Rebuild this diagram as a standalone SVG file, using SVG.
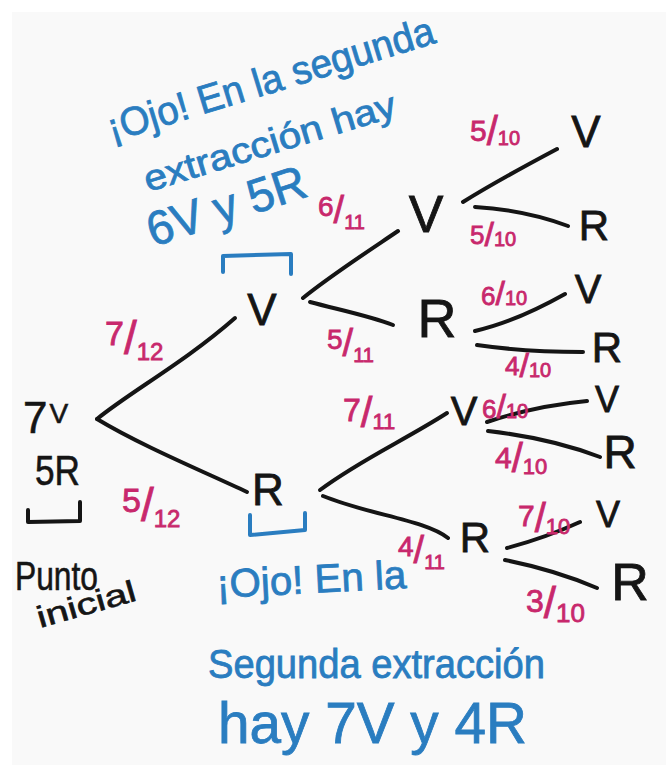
<svg xmlns="http://www.w3.org/2000/svg" width="666" height="765" viewBox="0 0 666 765">
<style>
.n{font-family:"Liberation Sans",Arial,sans-serif;fill:#151515;stroke:#151515;stroke-width:0.8;text-anchor:middle}
.b{font-family:"Liberation Sans",Arial,sans-serif;fill:#2a7dc0;stroke:#2a7dc0;stroke-width:0.8}
.k{font-family:"Liberation Sans",Arial,sans-serif;fill:#151515;stroke:#151515;stroke-width:0.6}
.f{font-family:"Liberation Sans",Arial,sans-serif;fill:#c8286c;stroke:#c8286c;stroke-width:0.8}
.e{fill:none;stroke:#151515;stroke-width:4;stroke-linecap:round;stroke-linejoin:round}
.bb{fill:none;stroke:#2a7dc0;stroke-width:4;stroke-linecap:round;stroke-linejoin:round}
</style>
<rect width="666" height="765" fill="#ffffff"/>
<rect x="12" y="12" width="654" height="753" fill="#f9f9f9"/>

<g id="connectors">
<path class="e" d="M97,419 C130,392 185,362 235,318"/>
<path class="e" d="M97,419 C140,445 200,470 247,492"/>
<path class="e" d="M303,298 C330,276 370,250 398,231"/>
<path class="e" d="M310,302 C340,310 370,316 393,325"/>
<path class="e" d="M463,202 C495,182 525,166 557,149"/>
<path class="e" d="M475,207 Q525,210 568,226"/>
<path class="e" d="M475,331 Q515,322 565,294"/>
<path class="e" d="M477,345 Q525,352 583,352"/>
<path class="e" d="M320,490 C360,460 405,440 447,413"/>
<path class="e" d="M323,496 C370,515 425,520 448,538"/>
<path class="e" d="M487,422 Q535,406 587,401"/>
<path class="e" d="M488,431 Q550,438 600,457"/>
<path class="e" d="M507,548 Q545,538 580,522"/>
<path class="e" d="M505,560 Q555,570 597,588"/>
</g>

<g id="start">
<text class="k" x="23" y="433" font-size="44">7<tspan font-size="28" dx="2" dy="-10">V</tspan></text>
<text class="k" x="35" y="485" font-size="42" textLength="45" lengthAdjust="spacingAndGlyphs">5R</text>
<path class="e" d="M28,510 L28,522 L80,521 L80,502"/>
<text class="k" x="15" y="590" font-size="40" textLength="83" lengthAdjust="spacingAndGlyphs">Punto</text>
<text class="k" x="40" y="628" font-size="30" textLength="102" lengthAdjust="spacingAndGlyphs" transform="rotate(-16 40 628)">inicial</text>
</g>

<g id="node-V1"><text class="n" x="262" y="325" font-size="44">V</text>
<path class="bb" d="M223,272 L223,256 L291,254 L291,274"/></g>
<g id="node-R1"><text class="n" x="268" y="505" font-size="44">R</text>
<path class="bb" d="M250,515 L250,535 L305,530 L305,513"/></g>
<g id="node-VV"><text class="n" x="426" y="232" font-size="52">V</text></g>
<g id="node-VR"><text class="n" x="437" y="337" font-size="54">R</text></g>
<g id="node-RV"><text class="n" x="464" y="425" font-size="40">V</text></g>
<g id="node-RR"><text class="n" x="475" y="552" font-size="42">R</text></g>
<g id="node-VVV"><text class="n" x="586" y="147" font-size="44">V</text></g>
<g id="node-VVR"><text class="n" x="594" y="240" font-size="42">R</text></g>
<g id="node-VRV"><text class="n" x="588" y="303" font-size="40">V</text></g>
<g id="node-VRR"><text class="n" x="607" y="362" font-size="42">R</text></g>
<g id="node-RVV"><text class="n" x="607" y="412" font-size="36">V</text></g>
<g id="node-RVR"><text class="n" x="620" y="468" font-size="46">R</text></g>
<g id="node-RRV"><text class="n" x="608" y="527" font-size="36">V</text></g>
<g id="node-RRR"><text class="n" x="630" y="600" font-size="52">R</text></g>

<g id="probabilities">
<text class="f" x="105" y="345" font-size="34">7<tspan font-size="46" dy="9">/</tspan><tspan font-size="24" dy="6">12</tspan></text>
<text class="f" x="122" y="512" font-size="34">5<tspan font-size="46" dy="9">/</tspan><tspan font-size="24" dy="6">12</tspan></text>
<text class="f" x="318" y="216" font-size="28">6<tspan font-size="38" dy="7">/</tspan><tspan font-size="20" dy="6">11</tspan></text>
<text class="f" x="327" y="349" font-size="28">5<tspan font-size="38" dy="7">/</tspan><tspan font-size="20" dy="6">11</tspan></text>
<text class="f" x="343" y="421" font-size="32">7<tspan font-size="42" dy="6">/</tspan><tspan font-size="22" dy="2">11</tspan></text>
<text class="f" x="398" y="556" font-size="28">4<tspan font-size="38" dy="7">/</tspan><tspan font-size="20" dy="6">11</tspan></text>
<text class="f" x="470" y="141" font-size="30">5<tspan font-size="40" dy="4">/</tspan><tspan font-size="20">10</tspan></text>
<text class="f" x="470" y="244" font-size="26">5<tspan font-size="34" dy="2">/</tspan><tspan font-size="20">10</tspan></text>
<text class="f" x="481" y="305" font-size="26">6<tspan font-size="34">/</tspan><tspan font-size="20">10</tspan></text>
<text class="f" x="505" y="375" font-size="26">4<tspan font-size="34" dy="2">/</tspan><tspan font-size="20">10</tspan></text>
<text class="f" x="482" y="418" font-size="26">6<tspan font-size="34">/</tspan><tspan font-size="20">10</tspan></text>
<text class="f" x="495" y="468" font-size="30">4<tspan font-size="40" dy="4">/</tspan><tspan font-size="22" dy="2">10</tspan></text>
<text class="f" x="518" y="526" font-size="30">7<tspan font-size="40" dy="6">/</tspan><tspan font-size="22" dy="2">10</tspan></text>
<text class="f" x="526" y="612" font-size="32">3<tspan font-size="44" dy="6">/</tspan><tspan font-size="26" dy="4">10</tspan></text>
</g>

<g id="note-top">
<text class="b" x="112" y="142" font-size="40" textLength="340" lengthAdjust="spacingAndGlyphs" transform="rotate(-17 112 142)">¡Ojo! En la segunda</text>
<text class="b" x="148" y="192" font-size="36" textLength="262" lengthAdjust="spacingAndGlyphs" transform="rotate(-17 148 192)">extracción hay</text>
<text class="b" x="153" y="247" font-size="48" textLength="165" lengthAdjust="spacingAndGlyphs" transform="rotate(-18 153 247)">6V y 5R</text>
</g>

<g id="note-bottom">
<text class="b" x="217" y="598" font-size="40" textLength="190" lengthAdjust="spacingAndGlyphs" transform="rotate(-3 217 598)">¡Ojo! En la</text>
<text class="b" x="208" y="678" font-size="40" textLength="337" lengthAdjust="spacingAndGlyphs">Segunda extracción</text>
<text class="b" x="218" y="743" font-size="58" textLength="309" lengthAdjust="spacingAndGlyphs">hay 7V y 4R</text>
</g>
</svg>
